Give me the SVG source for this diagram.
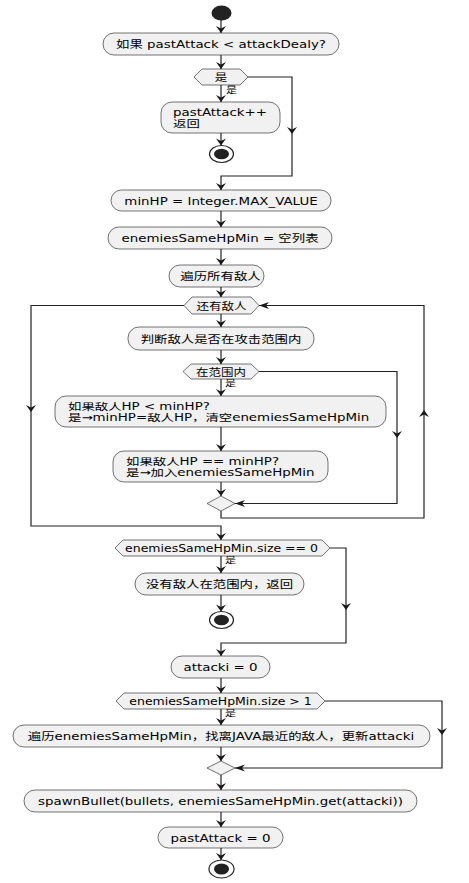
<svg xmlns="http://www.w3.org/2000/svg" width="469" height="883" viewBox="0 0 469 883">
<style>
.box{fill:#F1F1F1;stroke:#181818;stroke-width:0.6}
.c{fill:none;stroke:#222;stroke-width:1.2}
text{font-family:"DejaVu Sans","Noto Sans CJK SC",sans-serif;fill:#000}
.t{font-size:13.4px}
.d{font-size:12.5px}
.l{font-size:11px}
.m{text-anchor:middle}
</style>
<defs>
<marker id="av" markerUnits="userSpaceOnUse" markerWidth="7" markerHeight="10" refX="7" refY="5" orient="auto" overflow="visible">
<path d="M0,0 L7,5 L0,10 L2.5,5 Z" fill="#181818"/>
</marker>
<marker id="ah" markerUnits="userSpaceOnUse" markerWidth="10" markerHeight="7" refX="10" refY="3.5" orient="auto" overflow="visible">
<path d="M0,0 L10,3.5 L0,7 L3,3.5 Z" fill="#181818"/>
</marker>
</defs>
<rect width="469" height="883" fill="#FFFFFF"/>
<g id="connectors">
<path class="c" d="M221,20 V33" marker-end="url(#av)"/>
<path class="c" d="M221,55 V69" marker-end="url(#av)"/>
<path class="c" d="M221,85 V102" marker-end="url(#av)"/>
<path class="c" d="M221,133 V145.5" marker-end="url(#av)"/>
<path class="c" d="M248,77 H292 V134" marker-end="url(#av)"/>
<path class="c" d="M292,134 V176 H221 V190" marker-end="url(#av)"/>
<path class="c" d="M221,211 V227" marker-end="url(#av)"/>
<path class="c" d="M221,249 V265" marker-end="url(#av)"/>
<path class="c" d="M221,287 V297" marker-end="url(#av)"/>
<path class="c" d="M184,305.5 H31 V412" marker-end="url(#av)"/>
<path class="c" d="M31,412 V526 H221 V540" marker-end="url(#av)"/>
<path class="c" d="M221,314 V327" marker-end="url(#av)"/>
<path class="c" d="M221,350 V364" marker-end="url(#av)"/>
<path class="c" d="M259,371.5 H397 V438" marker-end="url(#av)"/>
<path class="c" d="M397,438 V503.5 H235" marker-end="url(#ah)"/>
<path class="c" d="M221,379 V396" marker-end="url(#av)"/>
<path class="c" d="M221,427 V451" marker-end="url(#av)"/>
<path class="c" d="M221,482 V496" marker-end="url(#av)"/>
<path class="c" d="M221,511 V518 H424 V410" marker-end="url(#av)"/>
<path class="c" d="M424,410 V305.5 H259" marker-end="url(#ah)"/>
<path class="c" d="M330,548 H346 V610" marker-end="url(#av)"/>
<path class="c" d="M346,610 V643 H221 V656" marker-end="url(#av)"/>
<path class="c" d="M221,556 V573" marker-end="url(#av)"/>
<path class="c" d="M221,595 V611.5" marker-end="url(#av)"/>
<path class="c" d="M221,678 V693" marker-end="url(#av)"/>
<path class="c" d="M325,701 H442 V735" marker-end="url(#av)"/>
<path class="c" d="M442,735 V768 H235" marker-end="url(#ah)"/>
<path class="c" d="M221,709 V725" marker-end="url(#av)"/>
<path class="c" d="M221,747 V761" marker-end="url(#av)"/>
<path class="c" d="M221,775 V790" marker-end="url(#av)"/>
<path class="c" d="M221,812 V827" marker-end="url(#av)"/>
<path class="c" d="M221,848 V860" marker-end="url(#av)"/>
<text class="l" transform="translate(226 93) scale(1 0.8)">是</text>
<text class="l" transform="translate(225 386) scale(1 0.8)">是</text>
<text class="l" transform="translate(225 563) scale(1 0.8)">是</text>
<text class="l" transform="translate(225 716) scale(1 0.8)">是</text>
</g>
<g id="start"><ellipse cx="221.5" cy="13" rx="10" ry="7.5" fill="#222"/></g>
<g id="n1">
<rect class="box" x="103" y="33" width="236" height="22" rx="11"/>
<text class="t m" transform="translate(221 48) scale(1 0.78)">如果 pastAttack &lt; attackDealy?</text>
</g>
<g id="d1">
<polygon class="box" points="194,77 202,69 240,69 248,77 240,85 202,85"/>
<text class="d m" transform="translate(221 81) scale(1 0.78)">是</text>
</g>
<g id="n2">
<rect class="box" x="161" y="102" width="119" height="31" rx="11"/>
<text class="t" transform="translate(173 115.5) scale(1 0.72)"><tspan x="0" y="0">pastAttack++</tspan><tspan x="0" y="16">返回</tspan></text>
</g>
<g id="end1">
<ellipse cx="221.5" cy="154" rx="12" ry="8.5" fill="#FFFFFF" stroke="#222" stroke-width="1.2"/>
<ellipse cx="221.5" cy="154" rx="7.5" ry="5.3" fill="#222"/>
</g>
<g id="n3">
<rect class="box" x="111" y="190" width="220" height="21" rx="10.5"/>
<text class="t m" transform="translate(221 204.5) scale(1 0.78)">minHP = Integer.MAX_VALUE</text>
</g>
<g id="n4">
<rect class="box" x="108" y="227" width="224" height="22" rx="11"/>
<text class="t m" transform="translate(220 242) scale(1 0.78)">enemiesSameHpMin = 空列表</text>
</g>
<g id="n5">
<rect class="box" x="169" y="265" width="95" height="22" rx="11"/>
<text class="t m" transform="translate(220.5 280) scale(1 0.78)">遍历所有敌人</text>
</g>
<g id="d2">
<polygon class="box" points="184,305.5 192,297 251,297 259,305.5 251,314 192,314"/>
<text class="d m" transform="translate(221.5 309.5) scale(1 0.78)">还有敌人</text>
</g>
<g id="n6">
<rect class="box" x="128" y="327" width="186" height="23" rx="11"/>
<text class="t m" transform="translate(221 342.5) scale(1 0.78)">判断敌人是否在攻击范围内</text>
</g>
<g id="d3">
<polygon class="box" points="183,371.5 191,364 251,364 259,371.5 251,379 191,379"/>
<text class="d m" transform="translate(221 375.5) scale(1 0.78)">在范围内</text>
</g>
<g id="n7">
<rect class="box" x="55" y="396" width="331" height="31" rx="11"/>
<text class="t" transform="translate(68 409.5) scale(1 0.72)"><tspan x="0" y="0">如果敌人HP &lt; minHP?</tspan><tspan x="0" y="16">是→minHP=敌人HP，清空enemiesSameHpMin</tspan></text>
</g>
<g id="n8">
<rect class="box" x="113" y="451" width="215" height="31" rx="11"/>
<text class="t" transform="translate(126 464.5) scale(1 0.72)"><tspan x="0" y="0">如果敌人HP == minHP?</tspan><tspan x="0" y="16">是→加入enemiesSameHpMin</tspan></text>
</g>
<g id="merge1"><polygon class="box" points="207,503.5 221,496 235,503.5 221,511"/></g>
<g id="d4">
<polygon class="box" points="115,548 123,540 322,540 330,548 322,556 123,556"/>
<text class="d m" transform="translate(221.5 552) scale(1 0.78)">enemiesSameHpMin.size == 0</text>
</g>
<g id="n9">
<rect class="box" x="135" y="573" width="169" height="22" rx="11"/>
<text class="t m" transform="translate(219.5 588) scale(1 0.78)">没有敌人在范围内，返回</text>
</g>
<g id="end2">
<ellipse cx="221.5" cy="620" rx="12" ry="8.5" fill="#FFFFFF" stroke="#222" stroke-width="1.2"/>
<ellipse cx="221.5" cy="620" rx="7.5" ry="5.3" fill="#222"/>
</g>
<g id="n10">
<rect class="box" x="171" y="656" width="99" height="22" rx="11"/>
<text class="t m" transform="translate(220.5 671) scale(1 0.78)">attacki = 0</text>
</g>
<g id="d5">
<polygon class="box" points="116,701 124,693 317,693 325,701 317,709 124,709"/>
<text class="d m" transform="translate(220.5 705) scale(1 0.78)">enemiesSameHpMin.size &gt; 1</text>
</g>
<g id="n11">
<rect class="box" x="13" y="725" width="417" height="22" rx="11"/>
<text class="t m" transform="translate(221 740) scale(1 0.78)">遍历enemiesSameHpMin，找离JAVA最近的敌人，更新attacki</text>
</g>
<g id="merge2"><polygon class="box" points="207,768 221,761 235,768 221,775"/></g>
<g id="n12">
<rect class="box" x="24" y="790" width="393" height="22" rx="11"/>
<text class="t m" transform="translate(220.5 805) scale(1 0.78)">spawnBullet(bullets, enemiesSameHpMin.get(attacki))</text>
</g>
<g id="n13">
<rect class="box" x="158" y="827" width="125" height="21" rx="10.5"/>
<text class="t m" transform="translate(220.5 841.5) scale(1 0.78)">pastAttack = 0</text>
</g>
<g id="end3">
<ellipse cx="221.5" cy="869" rx="12.5" ry="9" fill="#FFFFFF" stroke="#222" stroke-width="1.2"/>
<ellipse cx="221.5" cy="869" rx="7.5" ry="5.5" fill="#222"/>
</g>
</svg>
